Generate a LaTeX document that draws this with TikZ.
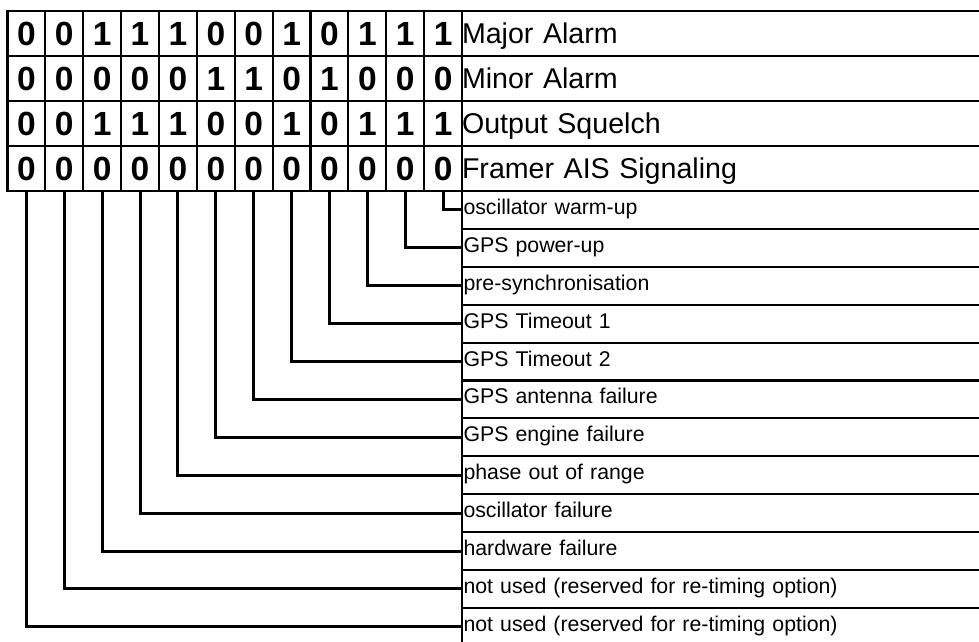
\documentclass[tikz,border=0pt]{standalone}
\usepackage{fontspec}
\setmainfont{Liberation Sans}
\begin{document}
\begin{tikzpicture}[x=1pt,y=-1pt,
  cell/.style={draw, line width=2.1pt, minimum width=37.875pt, minimum height=45pt,
    inner sep=0pt, outer sep=0pt, font=\fontsize{33.5}{33.5}\selectfont\bfseries, anchor=north west},
  rowlab/.style={draw, line width=2.1pt, minimum height=45pt, text width=530pt,
    inner xsep=0pt, inner ysep=0pt, outer sep=0pt, align=left, anchor=north west,
    font=\fontsize{28.6}{28.6}\selectfont, text height=20pt, text depth=0pt},
  boxlab/.style={draw, line width=2.1pt, minimum height=37.9pt, text width=530pt,
    inner xsep=1.5pt, inner ysep=0pt, outer sep=0pt, align=left, anchor=north west,
    font=\fontsize{21.3}{21.3}\selectfont, text height=15pt, text depth=6pt},
  conn/.style={line width=3pt}]
\useasboundingbox (0,0) rectangle (979,641);
\clip (0,0) rectangle (979,641);
% status table
\foreach \r/\bits/\name in {
  1/{0,0,1,1,1,0,0,1,0,1,1,1}/Major Alarm,
  2/{0,0,0,0,0,1,1,0,1,0,0,0}/Minor Alarm,
  3/{0,0,1,1,1,0,0,1,0,1,1,1}/Output Squelch,
  4/{0,0,0,0,0,0,0,0,0,0,0,0}/Framer AIS Signaling}{
  \foreach \b [count=\c from 0] in \bits {
    \node[cell] (c\r-\c) at ({7.5+\c*37.875},{11+(\r-1)*45}) {\b};
  }
  \node[rowlab] (r\r) at (462,{11+(\r-1)*45}) {\name};
}
% condition boxes
\foreach \t [count=\k from 0] in {oscillator warm-up, GPS power-up, pre-synchronisation,
  GPS Timeout 1, GPS Timeout 2, GPS antenna failure, GPS engine failure,
  phase out of range, oscillator failure, hardware failure,
  not used (reserved for re-timing option), not used (reserved for re-timing option)}{
  \node[boxlab] (b\k) at (462,{191+\k*37.9}) {\t};
}
% connectors
\foreach \k in {0,...,11}{
  \pgfmathtruncatemacro\j{11-\k}
  \draw[conn] (c4-\j.south) |- (b\k.west);
}
\end{tikzpicture}
\end{document}
